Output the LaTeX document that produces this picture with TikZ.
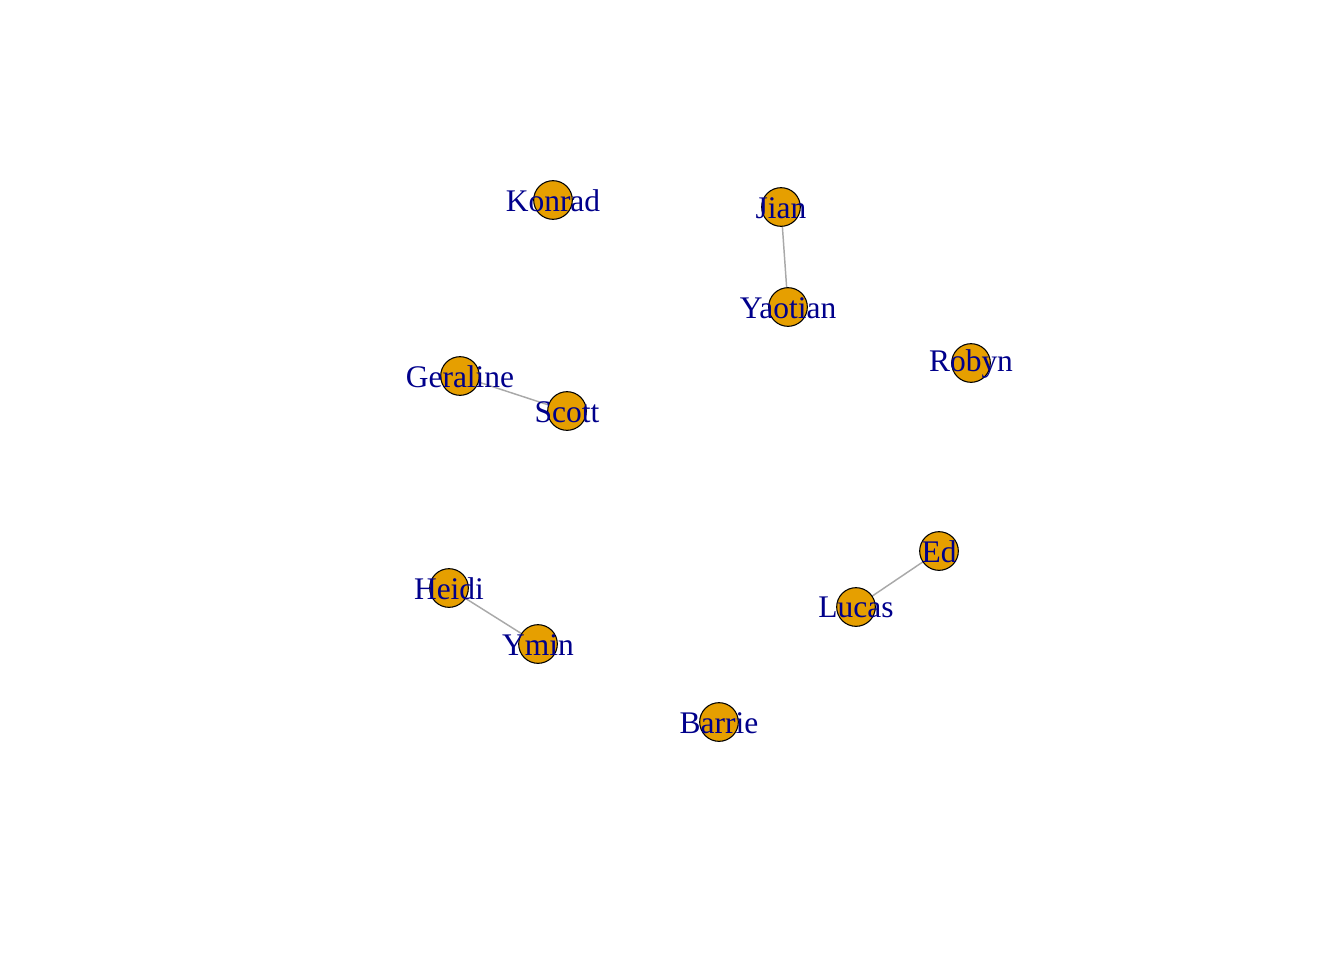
\documentclass[tikz,border=0pt]{standalone}
\usepackage{fontspec}
\setmainfont{Liberation Serif}
\pgfdeclarelayer{background}
\pgfsetlayers{background,main}
\definecolor{vorange}{HTML}{E69F00}
\definecolor{vblue}{HTML}{00008B}
\definecolor{egray}{HTML}{A9A9A9}
\begin{document}
\begin{tikzpicture}[x=0.75pt,y=-0.75pt,
  vert/.style={circle,draw=black,fill=vorange,line width=0.8pt,minimum size=29pt,inner sep=0pt,
    label={[text=vblue,font=\fontsize{23.6}{24}\selectfont,yshift=-0.6pt]center:#1}},
  edge/.style={draw=egray,line width=1.1pt}]
\useasboundingbox (0,0) rectangle (1344,960);
\node[vert=Konrad] (konrad) at (553,200) {};
\node[vert=Jian] (jian) at (781,207) {};
\node[vert=Yaotian] (yaotian) at (788,307) {};
\node[vert=Robyn] (robyn) at (971,363) {};
\node[vert=Geraline] (geraline) at (460,376) {};
\node[vert=Scott] (scott) at (567,411) {};
\node[vert=Ed] (ed) at (939,551) {};
\node[vert=Lucas] (lucas) at (856,607) {};
\node[vert=Heidi] (heidi) at (449,588) {};
\node[vert=Ymin] (ymin) at (538,644) {};
\node[vert=Barrie] (barrie) at (719,722) {};
\begin{pgfonlayer}{background}
\draw[edge] (jian.center) -- (yaotian.center);
\draw[edge] (geraline.center) -- (scott.center);
\draw[edge] (ed.center) -- (lucas.center);
\draw[edge] (heidi.center) -- (ymin.center);
\end{pgfonlayer}
\end{tikzpicture}
\end{document}
